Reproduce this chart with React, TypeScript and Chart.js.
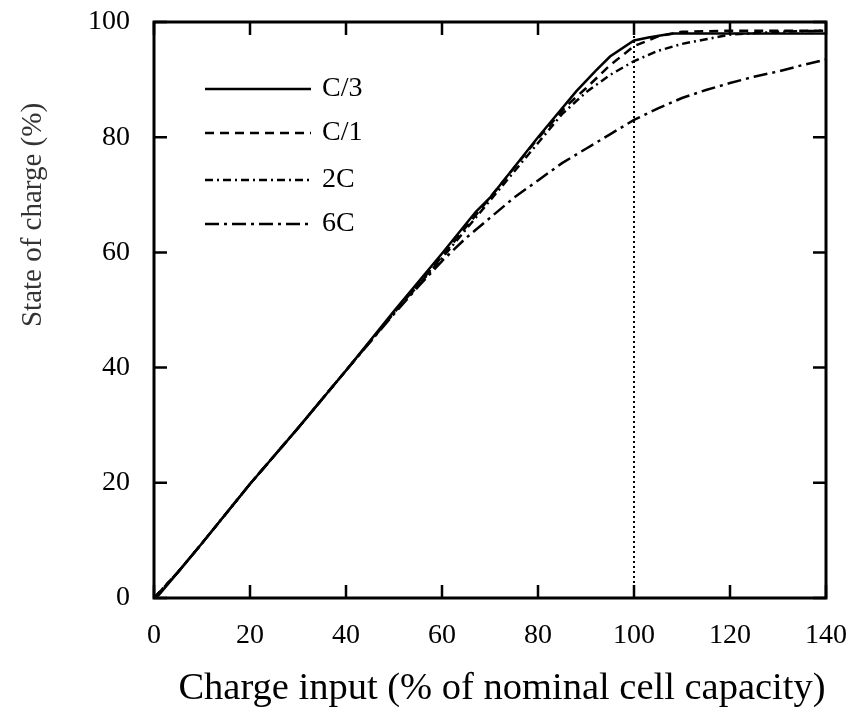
import React, { useEffect, useRef } from "react";
import { Chart, registerables } from "chart.js";

Chart.register(...registerables);

// ---- Data ----
const seriesNames = ["C/3", "C/1", "2C", "6C"];

const c3X = [0, 1, 5, 10, 20, 30, 40, 50, 60, 67, 70, 80, 88, 92, 95, 100, 103, 108, 115, 140];
const c3Y = [0, 0.5, 4.5, 9.5, 19.8, 29.5, 39.5, 49.8, 59.8, 67, 69.5, 80, 88, 91.5, 94, 96.8, 97.3, 98, 98, 98];

const c1X = [0, 5, 10, 20, 30, 40, 50, 60, 70, 80, 86, 90, 95, 100, 105, 110, 120, 130, 140];
const c1Y = [0, 4.5, 9.5, 19.8, 29.5, 39.5, 49.5, 59.3, 69.5, 79.8, 85.5, 88.5, 92.5, 95.8, 97.5, 98.3, 98.5, 98.5, 98.5];

const c2X = [0, 5, 10, 20, 30, 40, 50, 60, 70, 80, 85, 90, 95, 100, 105, 110, 115, 120, 130, 140];
const c2Y = [0, 4.5, 9.5, 19.8, 29.5, 39.5, 49.5, 59, 69, 79, 84, 87.8, 90.8, 93.2, 95, 96.2, 97, 97.8, 98.3, 98.5];

const c6X = [0, 5, 10, 20, 30, 40, 50, 55, 60, 65, 70, 75, 80, 85, 90, 95, 100, 105, 110, 115, 120, 125, 130, 135, 140];
const c6Y = [0, 4.5, 9.5, 19.8, 29.5, 39.5, 49.3, 54, 58.5, 62.5, 66, 69.5, 72.5, 75.5, 78, 80.5, 83, 85, 86.8, 88.2, 89.4, 90.5, 91.4, 92.5, 93.5];

const refLineX = 100;
const xTicks = [0, 20, 40, 60, 80, 100, 120, 140];
const yTicks = [0, 20, 40, 60, 80, 100];

const xTitle = "Charge input (% of nominal cell capacity)";
const yTitle = "State of charge (%)";

const FONT = "'Liberation Serif', 'Times New Roman', serif";

const toPts = (xs: number[], ys: number[]) => xs.map((x, i) => ({ x, y: ys[i] }));

const dashes: number[][] = [[], [9, 6], [8, 4, 2, 4], [14, 5, 3, 5]];

const framePlugin = {
  id: "frame",
  afterDatasetsDraw(chart: any) {
    const { ctx, chartArea, scales } = chart;
    const { left, right, top, bottom } = chartArea;
    ctx.save();
    ctx.strokeStyle = "#000";
    ctx.setLineDash([]);
    // ticks (inward, all four sides)
    ctx.lineWidth = 2.5;
    const tl = 13;
    xTicks.forEach((v) => {
      const px = scales.x.getPixelForValue(v);
      ctx.beginPath();
      ctx.moveTo(px, bottom);
      ctx.lineTo(px, bottom - tl);
      ctx.moveTo(px, top);
      ctx.lineTo(px, top + tl);
      ctx.stroke();
    });
    yTicks.forEach((v) => {
      const py = scales.y.getPixelForValue(v);
      ctx.beginPath();
      ctx.moveTo(left, py);
      ctx.lineTo(left + tl, py);
      ctx.moveTo(right, py);
      ctx.lineTo(right - tl, py);
      ctx.stroke();
    });
    // frame
    ctx.lineWidth = 3;
    ctx.strokeRect(left, top, right - left, bottom - top);

    // legend
    const lx0 = 205;
    const lx1 = 311;
    const ly = [89, 133, 180, 224];
    const datasets = chart.data.datasets.slice(0, 4);
    datasets.forEach((ds: any, i: number) => {
      ctx.beginPath();
      ctx.lineWidth = 2.5;
      ctx.setLineDash(ds.borderDash || []);
      ctx.moveTo(lx0, ly[i]);
      ctx.lineTo(lx1, ly[i]);
      ctx.stroke();
      ctx.setLineDash([]);
      ctx.fillStyle = "#000";
      ctx.font = `28px ${FONT}`;
      ctx.textAlign = "left";
      ctx.textBaseline = "middle";
      ctx.fillText(ds.label, 322, ly[i]);
    });

    // x title
    ctx.fillStyle = "#000";
    ctx.font = `38.5px ${FONT}`;
    ctx.textAlign = "center";
    ctx.textBaseline = "middle";
    ctx.fillText(xTitle, 502, 689);

    // y title
    ctx.save();
    ctx.translate(33, 215);
    ctx.rotate(-Math.PI / 2);
    ctx.fillStyle = "#333";
    ctx.font = `29px ${FONT}`;
    ctx.textAlign = "center";
    ctx.textBaseline = "middle";
    ctx.fillText(yTitle, 0, 0);
    ctx.restore();

    ctx.restore();
  },
};

export default function App() {
  const ref = useRef<HTMLCanvasElement | null>(null);
  useEffect(() => {
    if (!ref.current) return;
    const series = [toPts(c3X, c3Y), toPts(c1X, c1Y), toPts(c2X, c2Y), toPts(c6X, c6Y)];
    const chart = new Chart(ref.current, {
      type: "line",
      data: {
        datasets: [
          ...series.map((pts, i) => ({
            label: seriesNames[i],
            data: pts,
            borderColor: "#000",
            borderWidth: 2.5,
            borderDash: dashes[i],
            pointRadius: 0,
            tension: 0,
            fill: false,
          })),
          {
            label: "ref",
            data: [
              { x: refLineX, y: 0 },
              { x: refLineX, y: 100 },
            ],
            borderColor: "#000",
            borderWidth: 2,
            borderDash: [2, 3],
            pointRadius: 0,
            fill: false,
          },
        ],
      },
      options: {
        animation: false,
        responsive: true,
        maintainAspectRatio: false,
        layout: { padding: { left: 0, top: 22, right: 27, bottom: 0 } },
        plugins: { legend: { display: false }, tooltip: { enabled: false } },
        scales: {
          x: {
            type: "linear",
            min: 0,
            max: 140,
            afterFit: (s: any) => {
              s.height = 119;
              s.paddingLeft = 0;
              s.paddingRight = 0;
            },
            afterBuildTicks: (s: any) => {
              s.ticks = xTicks.map((v) => ({ value: v }));
            },
            grid: { display: false, drawTicks: false },
            border: { display: false },
            ticks: { color: "#000", font: { family: FONT, size: 28 }, padding: 21, maxRotation: 0 },
            title: { display: false },
          },
          y: {
            type: "linear",
            min: 0,
            max: 100,
            afterFit: (s: any) => {
              s.width = 154;
              s.paddingTop = 0;
              s.paddingBottom = 0;
            },
            afterBuildTicks: (s: any) => {
              s.ticks = yTicks.map((v) => ({ value: v }));
            },
            grid: { display: false, drawTicks: false },
            border: { display: false },
            ticks: { color: "#000", font: { family: FONT, size: 28 }, padding: 24 },
          },
        },
      },
      plugins: [framePlugin],
    });
    return () => chart.destroy();
  }, []);
  return (
    <div style={{ position: "absolute", left: 0, top: 0, width: 853, height: 717, background: "#fff" }}>
      <canvas ref={ref} />
    </div>
  );
}
